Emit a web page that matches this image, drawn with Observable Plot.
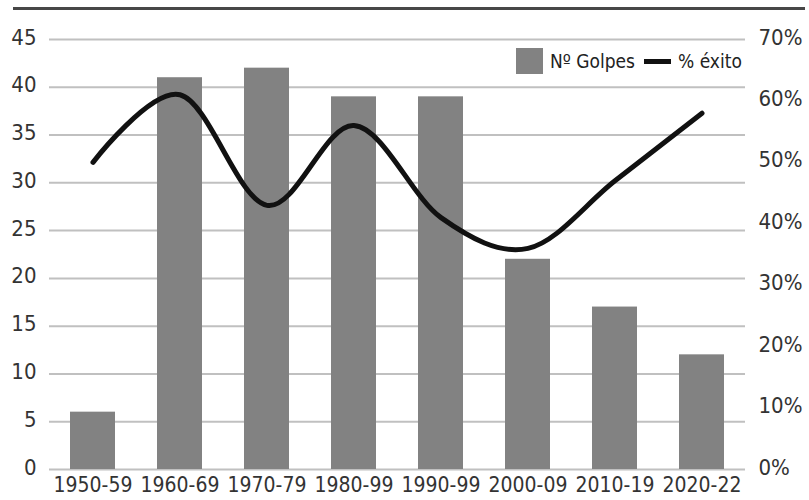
<!DOCTYPE html>
<html>
<head>
<meta charset="utf-8">
<script src="https://cdn.jsdelivr.net/npm/d3@7"></script>
<script src="https://cdn.jsdelivr.net/npm/@observablehq/plot@0.6"></script>
<style>
  html, body { margin: 0; padding: 0; background: white; }
  #wrap { position: relative; width: 809px; height: 500px; font-family: 'DejaVu Sans Condensed', 'DejaVu Sans', sans-serif; font-stretch: condensed; color: #333; }
  #toprule { position: absolute; left: 13px; top: 7px; width: 792px; height: 3px; background: #474747; }
  .lg { position: absolute; }
  .sq { left: 516px; top: 48px; width: 27px; height: 26px; background: #828282; }
  .ln { left: 644px; top: 59px; width: 27px; height: 5px; background: #111; }
  .t { top: 48px; font-size: 19px; line-height: 26px; color: #222; white-space: nowrap; }
</style>
</head>
<body>
<div id="wrap">
  <div id="chart"></div>
  <div id="toprule"></div>
  <div class="lg sq"></div>
  <div class="lg t" style="left:550px">Nº Golpes</div>
  <div class="lg ln"></div>
  <div class="lg t" style="left:678px">% éxito</div>
</div>
<script>
const categories = ["1950-59", "1960-69", "1970-79", "1980-99", "1990-99", "2000-09", "2010-19", "2020-22"];
const golpes = [6, 41, 42, 39, 39, 22, 17, 12];
const exito = [50, 61, 43, 56, 41, 36, 47, 58];
const leftTicks = [0, 5, 10, 15, 20, 25, 30, 35, 40, 45];
const rightTicks = [0, 10, 20, 30, 40, 50, 60, 70];
const leftMax = 45, rightMax = 70;

const data = categories.map((c, i) => ({cat: c, golpes: golpes[i], exito: exito[i]}));

const chart = Plot.plot({
  width: 809,
  height: 500,
  marginLeft: 49,
  marginRight: 64,
  marginTop: 39,
  marginBottom: 31,
  style: {fontFamily: "'DejaVu Sans Condensed', 'DejaVu Sans', sans-serif", fontStretch: "condensed", fontSize: "21px", color: "#333", background: "white"},
  x: {domain: categories, paddingInner: 0.48, paddingOuter: 0.24, label: null},
  y: {domain: [0, leftMax], label: null},
  marks: [
    Plot.ruleY(leftTicks, {stroke: "#c0c0c0", strokeWidth: 2}),
    Plot.barY(data, {x: "cat", y: "golpes", fill: "#828282"}),
    Plot.line(data, {x: "cat", y: d => d.exito * leftMax / rightMax, stroke: "#111", strokeWidth: 5, curve: "cardinal", strokeLinecap: "round"}),
    Plot.axisY(leftTicks, {anchor: "left", tickSize: 0, tickPadding: 13, dy: -2, label: null, fontSize: 22}),
    Plot.axisY(rightTicks.map(v => v * leftMax / rightMax), {anchor: "right", tickSize: 0, tickPadding: 13, dy: -2, label: null, fontSize: 22, tickFormat: v => Math.round(v * rightMax / leftMax) + "%"}),
    Plot.axisX({tickSize: 0, tickPadding: 8, label: null})
  ]
});
document.getElementById("chart").appendChild(chart);
</script>
</body>
</html>
